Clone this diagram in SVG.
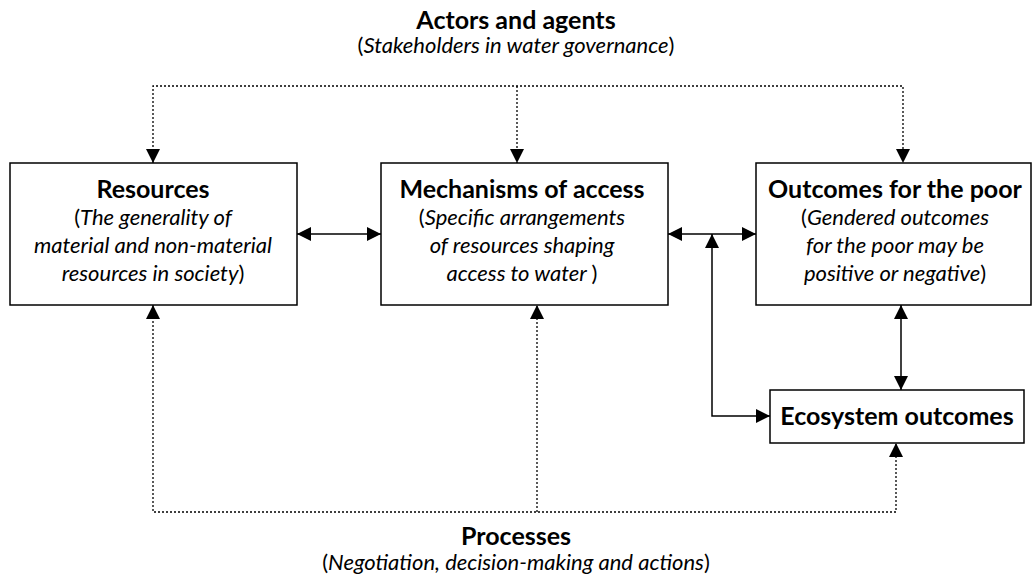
<svg xmlns="http://www.w3.org/2000/svg" width="1033" height="577" viewBox="0 0 1033 577">
<defs>
<marker id="ah" viewBox="0 0 14 14" refX="14" refY="7" markerWidth="14" markerHeight="14" markerUnits="userSpaceOnUse" orient="auto-start-reverse">
<path d="M0,0 L14,7 L0,14 Z" fill="#000"/>
</marker>
</defs>
<style>
.box{fill:#fff;stroke:#000;stroke-width:1.5}
.solid{fill:none;stroke:#000;stroke-width:1.5}
.dot{fill:none;stroke:#000;stroke-width:1.3;stroke-dasharray:2 2}
text{font-family:Lato,"Open Sans","Liberation Sans",sans-serif;font-size:22px;fill:#000;text-anchor:middle}
.b{font-weight:bold;font-size:25px}
.i{font-style:italic}
</style>
<rect width="1033" height="577" fill="#fff"/>
<g id="connectors">
<polyline class="dot" points="153,163 153,86 903,86 903,163" marker-start="url(#ah)" marker-end="url(#ah)"/>
<line class="dot" x1="517" y1="86" x2="517" y2="163" marker-end="url(#ah)"/>
<polyline class="dot" points="153,305 153,512 896,512 896,443" marker-start="url(#ah)" marker-end="url(#ah)"/>
<line class="dot" x1="537" y1="512" x2="537" y2="305" marker-end="url(#ah)"/>
<line class="solid" x1="297" y1="234" x2="381" y2="234" marker-start="url(#ah)" marker-end="url(#ah)"/>
<line class="solid" x1="668" y1="234" x2="756" y2="234" marker-start="url(#ah)" marker-end="url(#ah)"/>
<polyline class="solid" points="712,234 712,416 770,416" marker-start="url(#ah)" marker-end="url(#ah)"/>
<line class="solid" x1="901" y1="305" x2="901" y2="390" marker-start="url(#ah)" marker-end="url(#ah)"/>
</g>
<g id="actors">
<text x="516" y="29" class="b">Actors and agents</text>
<text x="516" y="53"><tspan>(</tspan><tspan class="i">Stakeholders in water governance</tspan><tspan>)</tspan></text>
</g>
<g id="resources">
<rect class="box" x="10" y="163" width="287" height="142"/>
<text x="153" y="198" class="b">Resources</text>
<text x="153" y="225"><tspan>(</tspan><tspan class="i">The generality of</tspan></text>
<text x="153" y="253" class="i">material and non-material</text>
<text x="153" y="281"><tspan class="i">resources in society</tspan><tspan>)</tspan></text>
</g>
<g id="mechanisms">
<rect class="box" x="381" y="163" width="287" height="142"/>
<text x="522" y="198" class="b">Mechanisms of access</text>
<text x="522" y="225"><tspan>(</tspan><tspan class="i">Specific arrangements</tspan></text>
<text x="522" y="253" class="i">of resources shaping</text>
<text x="522" y="281"><tspan class="i">access to water </tspan><tspan>)</tspan></text>
</g>
<g id="outcomes">
<rect class="box" x="756" y="163" width="275" height="142"/>
<text x="895" y="198" class="b">Outcomes for the poor</text>
<text x="895" y="225"><tspan>(</tspan><tspan class="i">Gendered outcomes</tspan></text>
<text x="895" y="253" class="i">for the poor may be</text>
<text x="895" y="281"><tspan class="i">positive or negative</tspan><tspan>)</tspan></text>
</g>
<g id="ecosystem">
<rect class="box" x="770" y="390" width="254" height="53"/>
<text x="897" y="425" class="b">Ecosystem outcomes</text>
</g>
<g id="processes">
<text x="516" y="545" class="b">Processes</text>
<text x="516" y="570"><tspan>(</tspan><tspan class="i">Negotiation, decision-making and actions</tspan><tspan>)</tspan></text>
</g>
</svg>
